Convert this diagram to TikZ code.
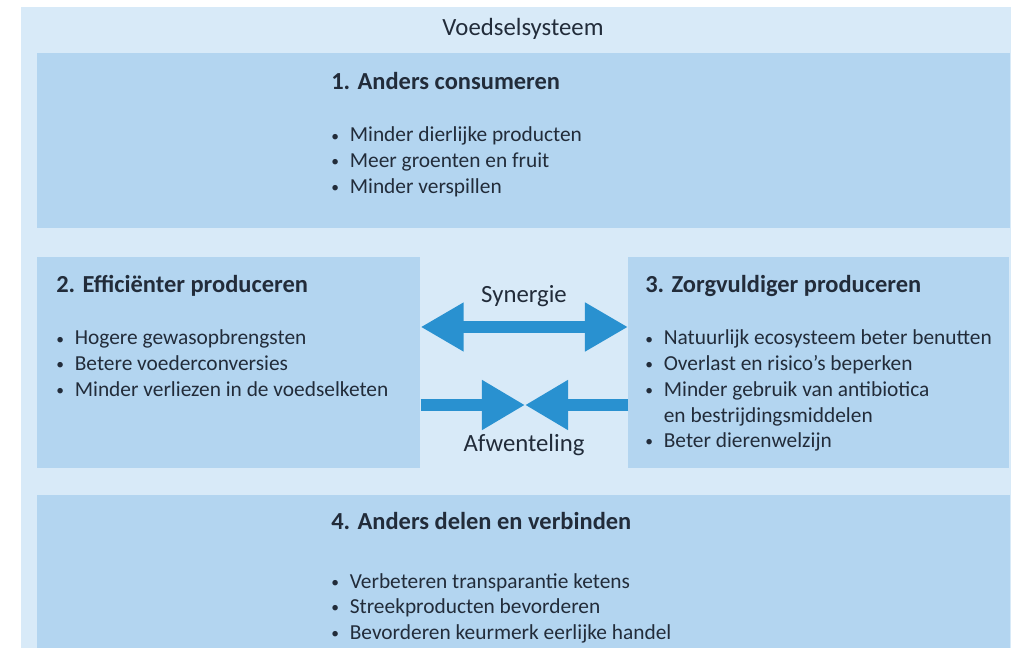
\documentclass[tikz,border=0pt]{standalone}
\usepackage{fontspec}
\setmainfont{Carlito}
\usetikzlibrary{arrows.meta,positioning}
\definecolor{achter}{RGB}{216,234,248}
\definecolor{vlak}{RGB}{179,213,240}
\definecolor{pijlblauw}{RGB}{41,145,208}
\definecolor{tekst}{RGB}{34,44,58}
\newcommand{\bol}{\makebox[13.2pt][l]{\raisebox{0.6pt}{\fontsize{11}{11}\selectfont\textbullet}}}

\begin{document}
\begin{tikzpicture}[x=0.025cm,y=-0.025cm,
    blok/.style={fill=vlak, anchor=north west, inner sep=0},
    kop/.style={anchor=base west, inner sep=0, text=tekst, font=\fontsize{17.4}{21}\selectfont\bfseries},
    punt/.style={anchor=base west, inner sep=0, text=tekst, font=\fontsize{15.2}{18}\selectfont},
    label/.style={anchor=base, inner sep=0, text=tekst, font=\fontsize{17.6}{21}\selectfont},
    pijl/.style={pijlblauw, line width=0.3cm}]
    \useasboundingbox (0,0) rectangle (1014,648);
    \fill [achter] (21,7) rectangle (1011,648);
    \node [label] (titel) at (523,36) {Voedselsysteem};
    % de vier blokken
    \node [blok, minimum width=24.3cm, minimum height=4.375cm] (b1) at (37,53) {};
    \node [blok, minimum width=9.575cm, minimum height=5.275cm] (b2) at (37,257) {};
    \node [blok, minimum width=9.525cm, minimum height=5.275cm] (b3) at (628,257) {};
    \node [blok, minimum width=24.3cm, minimum height=3.825cm] (b4) at (37,495) {};
    % koppen
    \node [kop] (k1) at (331,90) {1. Anders consumeren};
    \node [kop] (k2) at (56,293) {2. Efficiënter produceren};
    \node [kop] (k3) at (645,293) {3. Zorgvuldiger produceren};
    \node [kop] (k4) at (331,530) {4. Anders delen en verbinden};
    % punten
    \foreach \t [count=\i from 0] in {Minder dierlijke producten, Meer groenten en fruit, Minder verspillen}
        \node [punt] (p1-\i) at (331,142+25.7*\i) {\bol\t};
    \foreach \t [count=\i from 0] in {Hogere gewasopbrengsten, Betere voederconversies, Minder verliezen in de voedselketen}
        \node [punt] (p2-\i) at (56,345+25.7*\i) {\bol\t};
    \foreach \t [count=\i from 0] in {\bol Natuurlijk ecosysteem beter benutten, \bol Overlast en risico’s beperken, \bol Minder gebruik van antibiotica, \hspace*{13.2pt}en bestrijdingsmiddelen, \bol Beter dierenwelzijn}
        \node [punt] (p3-\i) at (645,345+25.7*\i) {\t};
    \foreach \t [count=\i from 0] in {Verbeteren transparantie ketens, Streekproducten bevorderen, Bevorderen keurmerk eerlijke handel}
        \node [punt] (p4-\i) at (331,588+25.7*\i) {\bol\t};
    % pijlen tussen 2 en 3
    \coordinate (s1) at (b2.east |- 0,327);
    \coordinate (s2) at (b3.west |- 0,327);
    \coordinate (a1) at (b2.east |- 0,405);
    \coordinate (a2) at (b3.west |- 0,405);
    \coordinate (am) at (525,405);
    \draw [pijl, {Triangle[width=1.15cm,length=1.075cm]}-{Triangle[width=1.15cm,length=1.075cm]}] (s1) -- (s2);
    \draw [pijl, -{Triangle[width=1.175cm,length=1.075cm]}] (a1) -- (am);
    \draw [pijl, -{Triangle[width=1.175cm,length=1.075cm]}] (a2) -- (am);
    \node [label] (syn) at (524,303) {Synergie};
    \node [label] (afw) at (524,452) {Afwenteling};
\end{tikzpicture}
\end{document}
